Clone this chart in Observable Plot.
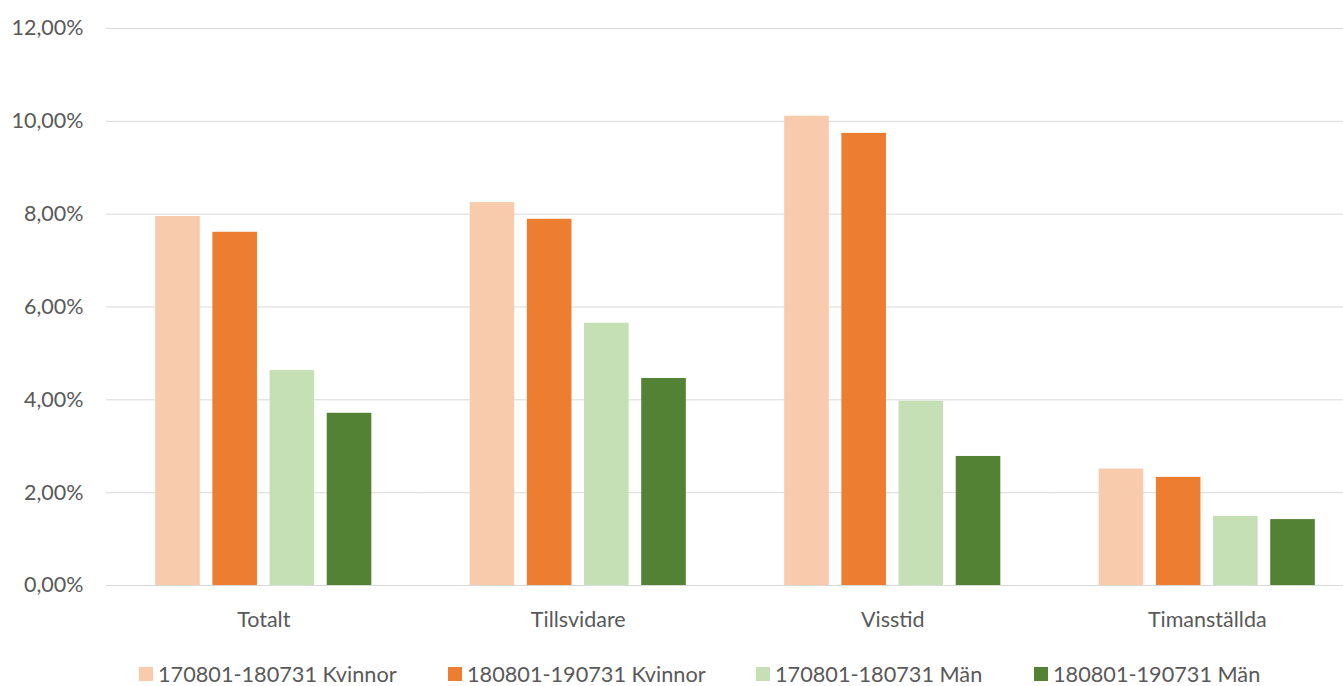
<!DOCTYPE html>
<html>
<head>
<meta charset="utf-8">
<script src="https://cdn.jsdelivr.net/npm/d3@7"></script>
<script src="https://cdn.jsdelivr.net/npm/@observablehq/plot@0.6"></script>
<style>
  html, body { margin: 0; padding: 0; background: #fff; }
  #chart { width: 1343px; height: 650px; }
  #chart svg { display: block; }
  #legend { position: relative; width: 1343px; height: 36px; font-family: Lato, "Open Sans", sans-serif; font-size: 21.7px; line-height: 22px; color: #595959; }
  .item { position: absolute; top: 13px; height: 22px; display: flex; align-items: center; white-space: nowrap; }
  .sw { width: 14px; height: 14px; margin-right: 5px; }
</style>
</head>
<body>
<div id="chart"></div>
<div id="legend"></div>
<script>
const categories = ["Totalt", "Tillsvidare", "Visstid", "Timanställda"];
const series = ["170801-180731 Kvinnor", "180801-190731 Kvinnor", "170801-180731 Män", "180801-190731 Män"];
const kvinnor1718 = [7.95, 8.25, 10.11, 2.51];
const kvinnor1819 = [7.61, 7.89, 9.74, 2.33];
const man1718 = [4.63, 5.65, 3.97, 1.49];
const man1819 = [3.71, 4.46, 2.78, 1.42];
const colors = ["#f8cbad", "#ed7d31", "#c5e0b4", "#548235"];
const yTicks = [0, 2, 4, 6, 8, 10, 12];
const legendLeft = [139, 448, 756, 1034];

const seriesValues = [kvinnor1718, kvinnor1819, man1718, man1819];
const data = [];
categories.forEach((c, i) => {
  series.forEach((s, j) => {
    data.push({category: c, series: s, value: seriesValues[j][i]});
  });
});

const fmt = d => d.toFixed(2).replace(".", ",") + "%";

const chart = Plot.plot({
  width: 1343,
  height: 650,
  marginTop: 28,
  marginBottom: 65,
  marginLeft: 106,
  marginRight: 0,
  style: {fontFamily: "Lato, 'Open Sans', sans-serif", fontSize: "21.5px", color: "#595959", background: "#fff"},
  fx: {domain: categories, range: [106, 1364], padding: 0, round: false, label: null, tickSize: 0, tickPadding: 26},
  x: {domain: series, paddingInner: 0.22, paddingOuter: 0.86, round: false, axis: null},
  y: {domain: [0, 12], ticks: yTicks, tickFormat: fmt, tickSize: 0, tickPadding: 23, label: null},
  color: {domain: series, range: colors},
  marks: [
    Plot.gridY(yTicks, {stroke: "#d9d9d9", strokeOpacity: 1, strokeWidth: 1}),
    Plot.barY(data, {fx: "category", x: "series", y: "value", fill: "series"}),
    Plot.ruleY([0], {stroke: "#d9d9d9", strokeWidth: 1.2})
  ]
});
document.getElementById("chart").appendChild(chart);

const legend = document.getElementById("legend");
series.forEach((s, i) => {
  const item = document.createElement("div");
  item.className = "item";
  item.style.left = legendLeft[i] + "px";
  const sw = document.createElement("span");
  sw.className = "sw";
  sw.style.background = colors[i];
  const t = document.createElement("span");
  t.textContent = s;
  item.appendChild(sw);
  item.appendChild(t);
  legend.appendChild(item);
});
</script>
</body>
</html>
